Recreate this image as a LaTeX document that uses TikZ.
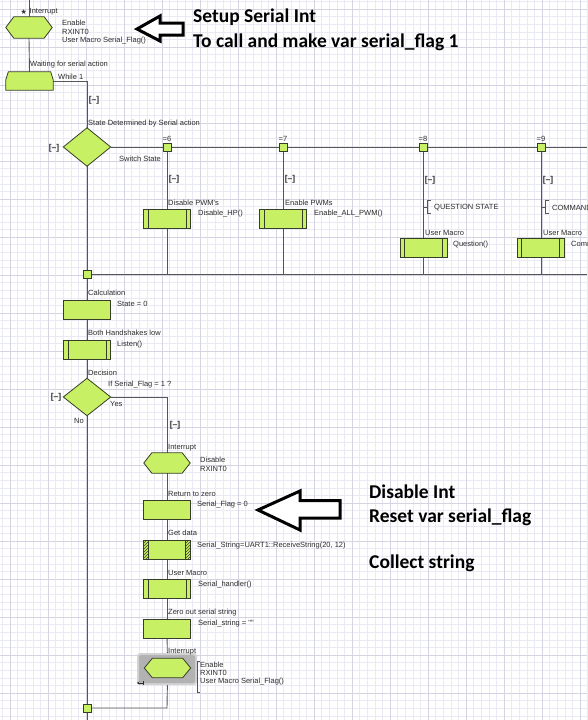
\documentclass[tikz,border=0pt]{standalone}
\usepackage{fontspec}
\newfontfamily\uifont{Liberation Sans}
\newfontfamily\notefont{Carlito}
\newfontfamily\symfont{DejaVu Sans}
\usetikzlibrary{patterns,arrows.meta}
\definecolor{lime}{RGB}{200,240,100}
\definecolor{edge}{RGB}{55,62,40}
\definecolor{wirec}{RGB}{85,85,85}
\definecolor{txt}{RGB}{45,45,45}
\definecolor{gridminor}{RGB}{234,234,244}
\definecolor{gridmajor}{RGB}{212,212,226}
\pgfdeclarelayer{gridlayer}
\pgfdeclarelayer{bg}
\pgfsetlayers{gridlayer,bg,main}
\tikzset{
  shp/.style={draw=edge, fill=lime, line width=0.8pt, line join=miter},
  ghost/.style={rectangle, inner sep=0pt, draw=none, fill=none},
  box/.style={shp, rectangle, minimum width=47pt, minimum height=19pt, inner sep=0pt},
  callbox/.style={box, path picture={\draw[edge, line width=0.8pt]
      ([xshift=4.5pt]path picture bounding box.north west) -- ([xshift=4.5pt]path picture bounding box.south west)
      ([xshift=-4.5pt]path picture bounding box.north east) -- ([xshift=-4.5pt]path picture bounding box.south east);}},
  hatchbox/.style={box, path picture={
      \fill[pattern=north east lines, pattern color=edge]
        (path picture bounding box.south west) rectangle ([xshift=5pt]path picture bounding box.north west);
      \fill[pattern=north east lines, pattern color=edge]
        (path picture bounding box.south east) rectangle ([xshift=-5pt]path picture bounding box.north east);
      \draw[edge, line width=0.8pt]
      ([xshift=5pt]path picture bounding box.north west) -- ([xshift=5pt]path picture bounding box.south west)
      ([xshift=-5pt]path picture bounding box.north east) -- ([xshift=-5pt]path picture bounding box.south east);}},
  sq/.style={shp, rectangle, minimum size=8pt, inner sep=0pt},
  wire/.style={draw=wirec, line width=0.9pt},
  lbl/.style={font={\uifont\fontsize{7.5}{9}\selectfont}, text=txt, inner sep=0pt, anchor=west},
  tog/.style={font={\uifont\bfseries\fontsize{8.5}{9}\selectfont}, text=txt, inner sep=0pt},
  note/.style={font={\notefont\bfseries\fontsize{19.5}{22}\selectfont}, text=black, inner sep=0pt, anchor=west},
  bigarrow/.style={draw=black, line width=3pt, fill=white, line join=miter},
}
\newcommand\hexdraw[1]{\draw[shp] (#1.west) -- ([xshift=8pt]#1.north west) -- ([xshift=-8pt]#1.north east)
  -- (#1.east) -- ([xshift=-8pt]#1.south east) -- ([xshift=8pt]#1.south west) -- cycle;}
\newcommand\diamdraw[1]{\draw[shp] (#1.west) -- (#1.north) -- (#1.east) -- (#1.south) -- cycle;}
\begin{document}
\begin{tikzpicture}[x=1pt,y=-1pt]
\useasboundingbox (0,0) rectangle (587,720);
\begin{pgfonlayer}{gridlayer}
\fill[white] (0,0) rectangle (587,720);
\foreach \i in {0,...,77} {\draw[gridminor, line width=0.5pt] ({2.4+7.6*\i},0) -- ({2.4+7.6*\i},720);}
\foreach \i in {0,...,94} {\draw[gridminor, line width=0.5pt] (0,{1.4+7.6*\i}) -- (587,{1.4+7.6*\i});}
\foreach \i in {0,...,15} {\draw[gridmajor, line width=0.5pt] ({10+38*\i},0) -- ({10+38*\i},720);}
\foreach \i in {0,...,18} {\draw[gridmajor, line width=0.5pt] (0,{9+38*\i}) -- (587,{9+38*\i});}
\end{pgfonlayer}

% ---------- top interrupt and while loop
\coordinate (top) at (29,0);
\node[ghost, minimum width=46pt, minimum height=21pt] (int1) at (29,27.5) {};
\hexdraw{int1}
\node[lbl, font={\symfont\fontsize{7}{7}\selectfont}] (int1star) at (20.5,11.5) {★};
\node[lbl] (int1lab) at (29.5,12) {Interrupt};
\node[lbl] (int1a) at (62,23) {Enable};
\node[lbl] (int1b) at (62,32) {RXINT0};
\node[lbl] (int1c) at (62,41) {User Macro Serial\_Flag()};

\node[ghost, minimum width=47pt, minimum height=18pt] (wh) at (29.5,81) {};
\draw[shp] (wh.south west) -- ([yshift=-8pt]wh.north west) -- ([xshift=2.5pt]wh.north west)
  -- ([xshift=-2.5pt]wh.north east) -- ([yshift=-8pt]wh.north east) -- (wh.south east) -- cycle;
\node[lbl] (whlab) at (30,65) {Waiting for serial action};
\node[lbl] (whcond) at (58,77) {While 1};
\coordinate (c1) at (87,81);
\node[tog] (tog1) at (94,100) {[–]};

% ---------- switch
\node[lbl] (swtitle) at (88,124) {State Determined by Serial action};
\node[ghost, minimum width=47pt, minimum height=38pt] (sw) at (87,147) {};
\diamdraw{sw}
\node[tog] (tog2) at (54,148) {[–]};
\node[lbl] (swlab) at (119,159) {Switch State};
\coordinate (hend) at (587,147);
\node[sq] (s6) at (167,147) {};
\node[sq] (s7) at (283,147) {};
\node[sq] (s8) at (423,147) {};
\node[sq] (s9) at (541,147) {};
\node[lbl, anchor=center] (e6) at (167,139) {=6};
\node[lbl, anchor=center] (e7) at (283,139) {=7};
\node[lbl, anchor=center] (e8) at (423,139) {=8};
\node[lbl, anchor=center] (e9) at (541,139) {=9};
\node[sq] (j1) at (87,274) {};
\coordinate (bend) at (587,274);
\coordinate (b6) at (167,274);
\coordinate (b7) at (283,274);
\coordinate (b8) at (423,274);
\coordinate (b9) at (541,274);

% case 6
\node[tog] (tog6) at (174,179) {[–]};
\node[lbl] (c6lab) at (168,203) {Disable PWM's};
\node[callbox] (c6) at (167,219) {};
\node[lbl] (c6t) at (198,214) {Disable\_HP()};
% case 7
\node[tog] (tog7) at (290,179) {[–]};
\node[lbl] (c7lab) at (285,203) {Enable PWMs};
\node[callbox] (c7) at (283,219) {};
\node[lbl] (c7t) at (314,214) {Enable\_ALL\_PWM()};
% case 8
\node[tog] (tog8) at (430,180) {[–]};
\draw[wirec, line width=0.8pt] (423,207) -- (427.5,207) (430.5,200.5) -- (427.5,200.5) -- (427.5,213.5) -- (430.5,213.5);
\node[lbl] (c8com) at (434,207.5) {QUESTION STATE};
\node[lbl] (c8lab) at (425,233) {User Macro};
\node[callbox] (c8) at (423.5,248) {};
\node[lbl] (c8t) at (453,245) {Question()};
% case 9 (cut off by the right edge, as in the reference)
\node[tog] (tog9) at (548,180) {[–]};
\draw[wirec, line width=0.8pt] (541,207) -- (545.5,207) (548.5,200.5) -- (545.5,200.5) -- (545.5,213.5) -- (548.5,213.5);
\begin{scope}
\clip (0,0) rectangle (587,720);
\node[lbl] (c9com) at (552,207.5) {COMMAND STATE};
\node[lbl] (c9t) at (571,245) {Command()};
\end{scope}
\node[lbl] (c9lab) at (543,233) {User Macro};
\node[callbox] (c9) at (540.5,248) {};

% ---------- main sequence
\node[lbl] (calclab) at (88,293) {Calculation};
\node[box] (calc) at (87,309.5) {};
\node[lbl] (calct) at (117,304) {State = 0};
\node[lbl] (lislab) at (88,333) {Both Handshakes low};
\node[callbox] (lis) at (87,349.5) {};
\node[lbl] (list) at (117,345) {Listen()};
\node[lbl] (declab) at (88,373) {Decision};
\node[ghost, minimum width=47pt, minimum height=37pt] (dec) at (87,397) {};
\diamdraw{dec}
\node[lbl] (dect) at (108,385) {If Serial\_Flag = 1 ?};
\node[tog] (tog3) at (56,397) {[–]};
\node[lbl] (yes) at (110,404) {Yes};
\node[lbl, anchor=center] (no) at (79,421) {No};
\coordinate (yc) at (167,397);
\node[tog] (tog4) at (175,425) {[–]};

% yes branch
\node[lbl] (int2lab) at (168,448) {Interrupt};
\node[ghost, minimum width=46pt, minimum height=20pt] (int2) at (167,463) {};
\hexdraw{int2}
\node[lbl] (int2a) at (200,460) {Disable};
\node[lbl] (int2b) at (200,469) {RXINT0};

\node[lbl] (rzlab) at (168,494) {Return to zero};
\node[box] (rz) at (167,509.5) {};
\node[lbl] (rzt) at (197,505) {Serial\_Flag = 0};

\node[lbl] (gdlab) at (168,533) {Get data};
\node[hatchbox] (gd) at (167,549.5) {};
\node[lbl] (gdt) at (197,546) {Serial\_String=UART1::ReceiveString(20, 12)};

\node[lbl] (shlab) at (168,573) {User Macro};
\node[callbox] (sh) at (167,589) {};
\node[lbl] (sht) at (198,585) {Serial\_handler()};

\node[lbl] (zolab) at (168,613) {Zero out serial string};
\node[box] (zo) at (167,628.5) {};
\node[lbl] (zot) at (198,624) {Serial\_string = ""};

\fill[gray!35, rounded corners=3pt] (137,653) rectangle (197,685);
\fill[gray!60, rounded corners=2pt] (139,655) rectangle (195,683);
\node[lbl] (int3lab) at (168,652) {Interrupt};
\node[ghost, minimum width=46pt, minimum height=19pt] (int3) at (167.5,668) {};
\hexdraw{int3}
\draw[wirec, line width=0.7pt] (200,661) -- (197.5,661) -- (197.5,692) -- (200,692);
\node[lbl] (int3a) at (200,664.5) {Enable};
\node[lbl] (int3b) at (200,673) {RXINT0};
\node[lbl] (int3c) at (200,681.5) {User Macro Serial\_Flag()};
\draw[txt, line width=0.6pt, -{Stealth[length=2.5pt,width=3pt]}] (143.5,683) -- (137,683);
\draw[txt, line width=0.6pt] (143.5,681) -- (143.5,685);

\coordinate (endc) at (167,708);
\node[sq] (j2) at (87,708) {};
\coordinate (bot) at (87,720);

% ---------- wires
\begin{pgfonlayer}{bg}
\draw[wire] (top) -- (int1.north);
\draw[wire] (int1.south) -- (wh.north);
\draw[wire] (wh.east) -- (c1) -- (sw.north);
\draw[wire] (sw.east) -- (hend);
\draw[wire] (s6) -- (b6);
\draw[wire] (s7) -- (b7);
\draw[wire] (s8) -- (b8);
\draw[wire] (s9) -- (b9);
\draw[wire] (sw.south) -- (j1);
\draw[wire] (j1) -- (bend);
\draw[wire] (j1) -- (calc);
\draw[wire] (calc) -- (lis);
\draw[wire] (lis) -- (dec.north);
\draw[wire] (dec.east) -- (yc) -- (int2.north);
\draw[wire] (int2) -- (rz);
\draw[wire] (rz) -- (gd);
\draw[wire] (gd) -- (sh);
\draw[wire] (sh) -- (zo);
\draw[wire] (zo) -- (int3);
\draw[wire] (int3.south) -- (endc) -- (j2);
\draw[wire] (dec.south) -- (j2);
\draw[wire] (j2) -- (bot);
\end{pgfonlayer}

% ---------- annotations
\draw[bigarrow] (137,29) -- (160,16) -- (160,23) -- (183,23) -- (183,35) -- (160,35) -- (160,41) -- cycle;
\draw[bigarrow] (258,510) -- (300,491) -- (300,500.5) -- (340,500.5) -- (340,518) -- (300,518) -- (300,530) -- cycle;
\node[note] (n1) at (193,17) {Setup Serial Int};
\node[note] (n2) at (193,42) {To call and make var serial\_flag 1};
\node[note] (n3) at (369,492) {Disable Int};
\node[note] (n4) at (369,517) {Reset var serial\_flag};
\node[note] (n5) at (369,563) {Collect string};
\end{tikzpicture}
\end{document}
